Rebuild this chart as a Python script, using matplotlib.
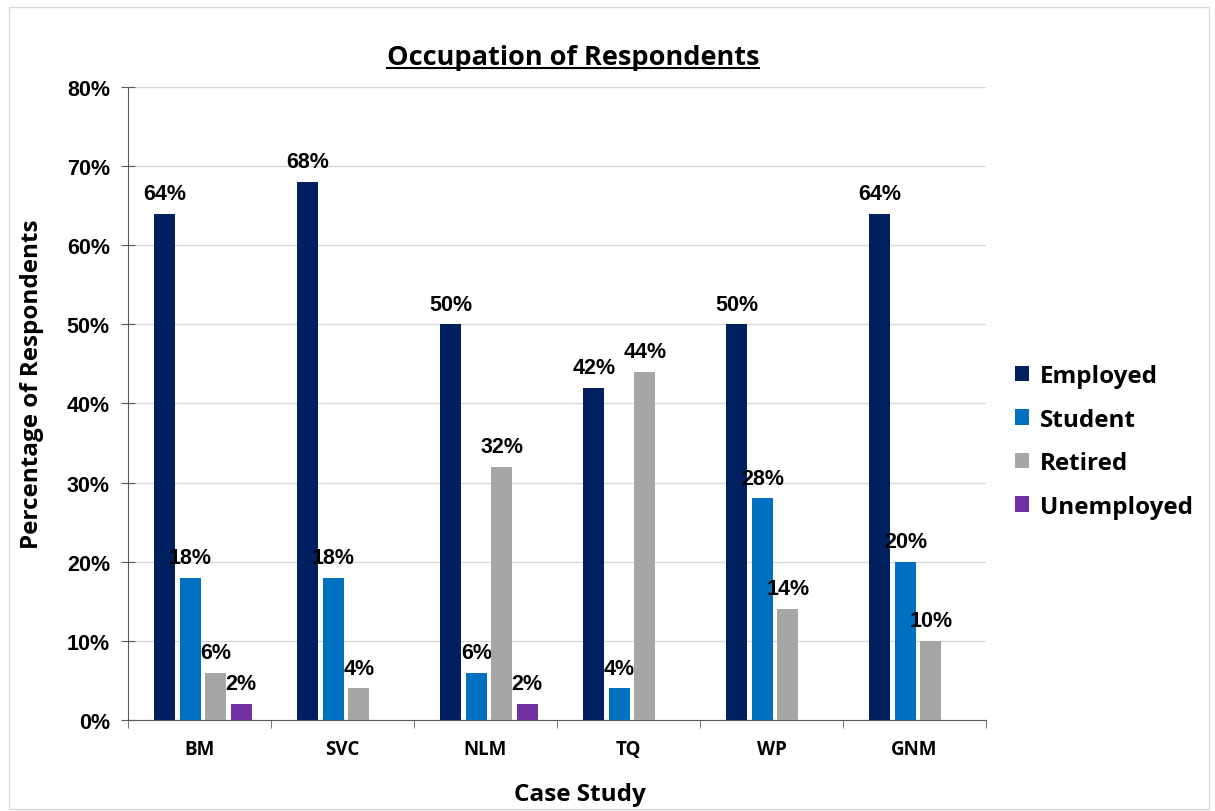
import numpy as np
import matplotlib.pyplot as plt
from matplotlib.lines import Line2D

# %%
# Data (percent); NaN = no bar
case_studies = ["BM", "SVC", "NLM", "TQ", "WP", "GNM"]
employed = [64, 68, 50, 42, 50, 64]
student = [18, 18, 6, 4, 28, 20]
retired = [6, 4, 32, 44, 14, 10]
unemployed = [2, np.nan, 2, np.nan, np.nan, np.nan]

series_names = ["Employed", "Student", "Retired", "Unemployed"]
series_values = [employed, student, retired, unemployed]
colors = ["#002060", "#0070C0", "#A6A6A6", "#7030A0"]

# %%
fig = plt.figure(figsize=(12.15, 8.12), dpi=100)
ax = fig.add_axes([0.1053, 0.1121, 0.7062, 0.7795])

x = np.arange(len(case_studies))
slot = 0.178
bar_w = 0.145
for i, (name, vals, col) in enumerate(zip(series_names, series_values, colors)):
    offs = (i - 1.5) * slot + 0.025
    bars = ax.bar(x + offs, vals, width=bar_w, color=col, label=name, zorder=3)
    for b, v in zip(bars, vals):
        if np.isnan(v):
            continue
        ax.annotate(f"{v:.0f}%", (b.get_x() + b.get_width() / 2, v),
                    xytext=(0, 7), textcoords="offset points",
                    ha="center", va="bottom", fontsize=15.5,
                    fontweight="bold", family="Liberation Sans")

ax.set_xlim(-0.5, len(case_studies) - 0.5)
ax.set_ylim(0, 80)
ax.set_yticks(np.arange(0, 81, 10))
ax.set_yticklabels([f"{t}%" for t in range(0, 81, 10)],
                   fontsize=15.5, fontweight="bold", family="Liberation Sans")
ax.set_xticks(x)
ax.set_xticklabels(case_studies, fontsize=13.5, fontweight="bold", family="Open Sans")
ax.set_xticks(np.arange(-0.5, len(case_studies), 1), minor=True)
ax.tick_params(axis="x", which="major", length=0, pad=14)
ax.tick_params(axis="x", which="minor", length=6, direction="out", color="#595959")
ax.tick_params(axis="y", length=10, direction="inout", color="#595959", pad=8)

ax.grid(axis="y", color="#D9D9D9", linewidth=1, zorder=0)
for s in ["top", "right"]:
    ax.spines[s].set_visible(False)
for s in ["left", "bottom"]:
    ax.spines[s].set_color("#595959")

ax.set_ylabel("Percentage of Respondents", fontsize=17.5, fontweight="bold",
              family="Open Sans", va="center")
ax.set_xlabel("Case Study", fontsize=17.5, fontweight="bold", family="Open Sans",
              va="center")
ax.yaxis.set_label_coords(-0.112, 0.532)
ax.xaxis.set_label_coords(0.527, -0.117)

leg = ax.legend(loc="center left", bbox_to_anchor=(1.008, 0.44), frameon=False,
                prop={"family": "Open Sans", "weight": "bold", "size": 17.5},
                handlelength=0.6, handleheight=0.6, handletextpad=0.45,
                labelspacing=0.8)

# title with underline
title = fig.text(0.4716, 0.929, "Occupation of Respondents", ha="center",
                 va="center", fontsize=19.5, fontweight="bold", family="Open Sans")
fig.canvas.draw()
bb = title.get_window_extent().transformed(fig.transFigure.inverted())
fig.add_artist(Line2D([bb.x0, bb.x1], [bb.y0 + 0.002, bb.y0 + 0.002],
                      transform=fig.transFigure, color="black", linewidth=1.5))

# light frame around the chart area
fig.add_artist(plt.Rectangle((0.007, 0.003), 0.988, 0.987, transform=fig.transFigure,
                             fill=False, edgecolor="#D9D9D9", linewidth=1))

fig.savefig("out.png", dpi=100)
